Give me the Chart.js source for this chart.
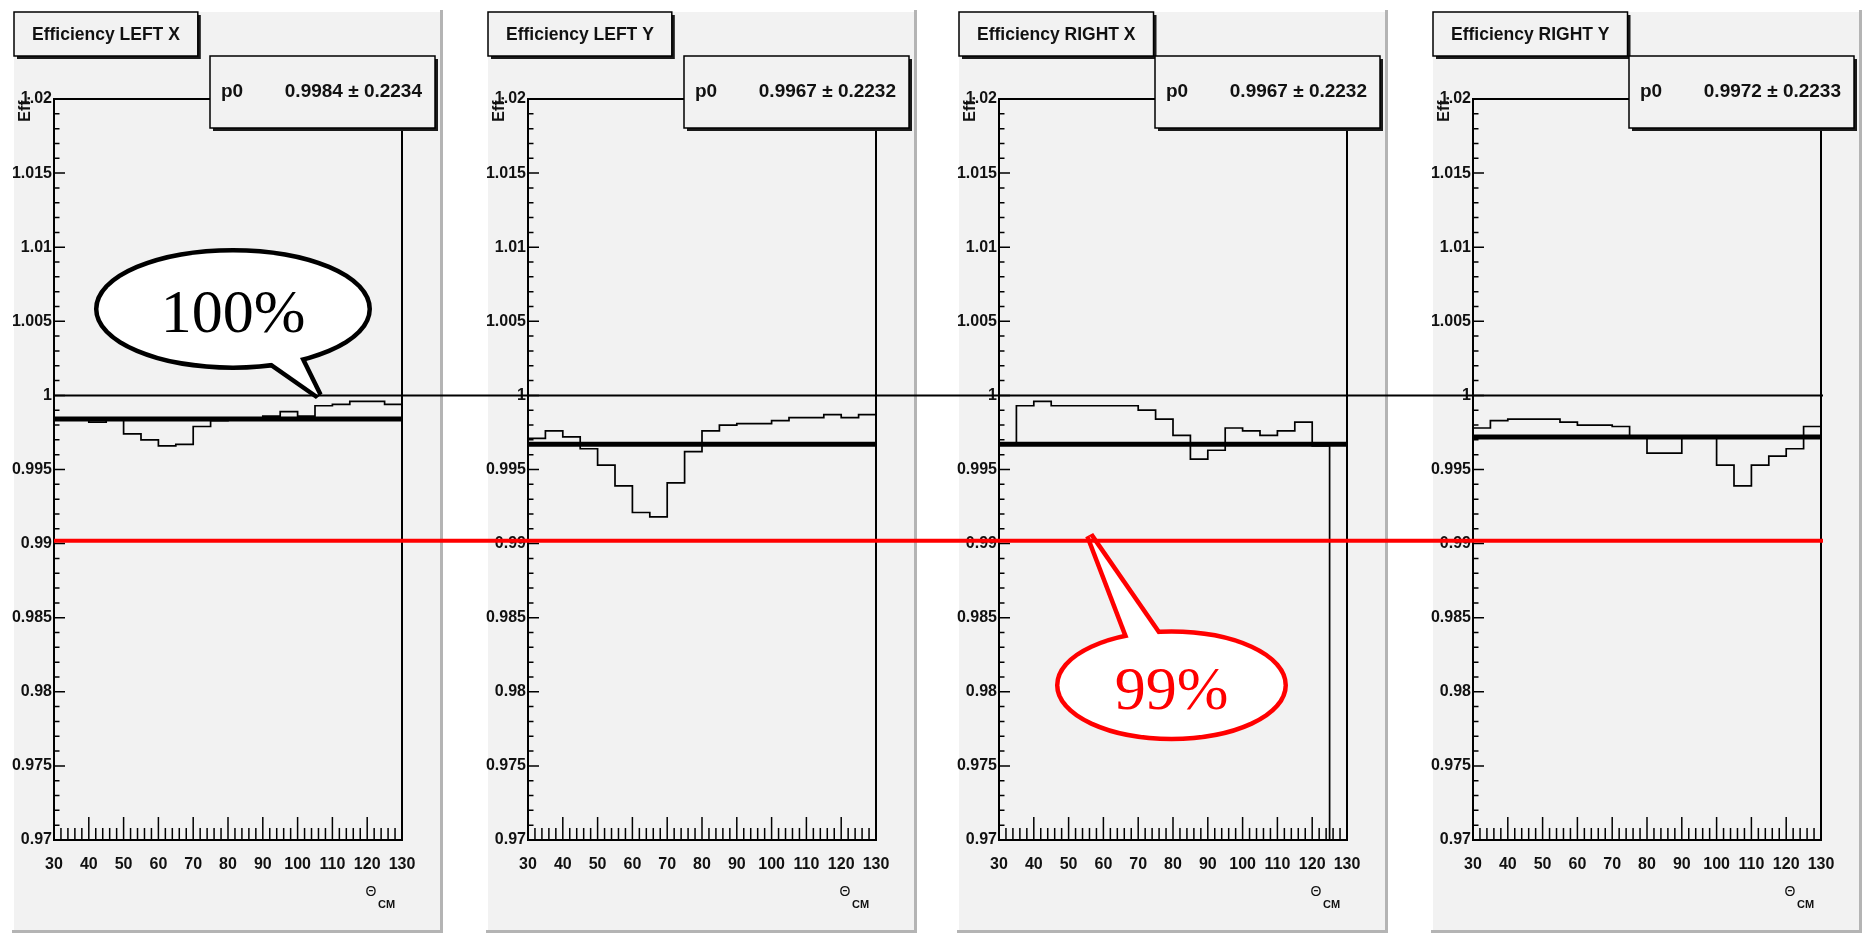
<!DOCTYPE html>
<html>
<head>
<meta charset="utf-8">
<script src="https://cdn.jsdelivr.net/npm/chart.js@4.4.1/dist/chart.umd.min.js"></script>
<style>
  html, body { margin: 0; padding: 0; background: #fff; }
  #wrap { position: relative; width: 1871px; height: 939px; overflow: hidden; }
  #wrap canvas { position: absolute; }
  #overlay { left: 0; top: 0; z-index: 2; pointer-events: none; }
</style>
</head>
<body>
<div id="wrap"><canvas id="overlay" width="1871" height="939"></canvas></div>
<script>
// lower edge of each 5 degree bin in theta CM
const binLow = [30, 35, 40, 45, 50, 55, 60, 65, 70, 75, 80, 85, 90, 95, 100, 105, 110, 115, 120, 125];
const binHigh = 130;

// efficiency per bin
const effLeftX  = [0.9984, 0.9984, 0.9982, 0.9984, 0.9974, 0.9970, 0.9966, 0.9967, 0.9979, 0.9983,
                   0.9984, 0.9984, 0.9986, 0.9989, 0.9986, 0.9993, 0.9994, 0.9996, 0.9996, 0.9994];
const effLeftY  = [0.9971, 0.9976, 0.9972, 0.9964, 0.9953, 0.9939, 0.9921, 0.9918, 0.9941, 0.9962,
                   0.9976, 0.9980, 0.9981, 0.9981, 0.9983, 0.9985, 0.9985, 0.9987, 0.9985, 0.9987];
const effRightX = [0.9968, 0.9993, 0.9996, 0.9993, 0.9993, 0.9993, 0.9993, 0.9993, 0.9990, 0.9984,
                   0.9973, 0.9957, 0.9963, 0.9978, 0.9976, 0.9973, 0.9976, 0.9982, 0.9966, 0];
const effRightY = [0.9978, 0.9983, 0.9984, 0.9984, 0.9984, 0.9982, 0.9980, 0.9980, 0.9979, 0.9972,
                   0.9961, 0.9961, 0.9972, 0.9972, 0.9953, 0.9939, 0.9953, 0.9959, 0.9964, 0.9979];

const panelTitles = ['Efficiency LEFT X', 'Efficiency LEFT Y', 'Efficiency RIGHT X', 'Efficiency RIGHT Y'];
const fitP0  = [0.9984, 0.9967, 0.9967, 0.9972];
const fitErr = [0.2234, 0.2232, 0.2232, 0.2233];

// axis ranges and tick steps
const yMin = 0.97, yMax = 1.02, yMinorStep = 0.001;
const xMin = 30, xMax = 130, xMinorStep = 2;

// reference lines drawn across all panels (100% and 99%)
const refLineValues = [1.0, 0.9902];

// ---- layout (page pixels) ----
const padLefts = [12, 486, 957, 1431];
const PAD_W = 431, PAD_H = 923, PAD_TOP = 10;
const PAD_BG = '#f2f2f2';
const SANS = '"Liberation Sans", Arial, Helvetica, sans-serif';
const SERIF = '"Liberation Serif", "Times New Roman", serif';

const series = [effLeftX, effLeftY, effRightX, effRightY];

function histPoints(vals) {
    let pts = binLow.map((x, i) => ({x: x, y: vals[i]}));
    pts.push({x: binHigh, y: vals[vals.length - 1]});
    return pts;
}

function boxWithShadow(ctx, x, y, w, h) {
    ctx.fillStyle = '#1a1a1a';
    ctx.fillRect(x + 3, y + 3, w, h);
    ctx.fillStyle = PAD_BG;
    ctx.fillRect(x, y, w, h);
    ctx.strokeStyle = '#000';
    ctx.lineWidth = 1.5;
    ctx.strokeRect(x, y, w, h);
}

// ROOT-like pad: background, inner ticks, frame, title and stats boxes
const rootPad = {
    id: 'rootPad',
    beforeDraw(chart) {
        const ctx = chart.ctx, w = chart.width, h = chart.height;
        ctx.save();
        ctx.fillStyle = PAD_BG;
        ctx.fillRect(0, 0, w, h);
        ctx.fillStyle = '#ffffff';
        ctx.fillRect(0, 0, w, 2);
        ctx.fillRect(0, 0, 2, h);
        ctx.fillStyle = '#b4b4b4';
        ctx.fillRect(w - 3, 0, 3, h);
        ctx.fillRect(0, h - 3, w, 3);
        ctx.restore();
    },
    afterDatasetsDraw(chart) {
        const ctx = chart.ctx;
        const {left, right, top, bottom} = chart.chartArea;
        const xs = chart.scales.x, ys = chart.scales.y;
        ctx.save();
        ctx.strokeStyle = '#000';
        ctx.lineWidth = 1.5;
        ctx.beginPath();
        ys.ticks.forEach(t => {
            const py = ys.getPixelForValue(t.value);
            const major = Math.round(t.value * 1000) % 5 === 0;
            ctx.moveTo(left, py);
            ctx.lineTo(left + (major ? 11 : 5.5), py);
        });
        xs.ticks.forEach(t => {
            const px = xs.getPixelForValue(t.value);
            const major = Math.round(t.value) % 10 === 0;
            ctx.moveTo(px, bottom);
            ctx.lineTo(px, bottom - (major ? 23 : 12));
        });
        ctx.stroke();
        ctx.lineWidth = 2;
        ctx.strokeRect(left, top, right - left, bottom - top);
        ctx.restore();
    },
    afterDraw(chart, args, opts) {
        const ctx = chart.ctx;
        ctx.save();
        // title box
        ctx.font = `bold 17.5px ${SANS}`;
        const tw = ctx.measureText(opts.title).width;
        boxWithShadow(ctx, 2, 2, tw + 36, 44);
        ctx.fillStyle = '#111';
        ctx.textAlign = 'center';
        ctx.textBaseline = 'middle';
        ctx.fillText(opts.title, 2 + (tw + 36) / 2, 25);

        // stats box
        const sx = 198, sy = 46, sw = 225, sh = 72;
        boxWithShadow(ctx, sx, sy, sw, sh);
        ctx.fillStyle = '#111';
        ctx.font = `bold 19px ${SANS}`;
        ctx.textAlign = 'left';
        ctx.fillText('p0', sx + 11, sy + sh / 2);
        ctx.textAlign = 'right';
        ctx.fillText(`${opts.p0.toFixed(4)} \u00b1 ${opts.err.toFixed(4)}`, sx + sw - 13, sy + sh / 2);

        // axis titles
        ctx.save();
        ctx.translate(14, 86);
        ctx.rotate(-Math.PI / 2);
        ctx.font = `bold 16px ${SANS}`;
        ctx.textAlign = 'right';
        ctx.textBaseline = 'middle';
        ctx.fillText('Eff.', 0, 0);
        ctx.restore();

        ctx.textAlign = 'center';
        ctx.textBaseline = 'middle';
        ctx.font = `14px ${SANS}`;
        ctx.fillText('\u0398', 359, 882);
        ctx.textAlign = 'left';
        ctx.font = `bold 11px ${SANS}`;
        ctx.fillText('CM', 366, 895);
        ctx.restore();
    }
};

const wrap = document.getElementById('wrap');
const overlay = document.getElementById('overlay');

const charts = series.map((vals, i) => {
    const cv = document.createElement('canvas');
    cv.width = PAD_W;
    cv.height = PAD_H;
    cv.style.left = padLefts[i] + 'px';
    cv.style.top = PAD_TOP + 'px';
    wrap.insertBefore(cv, overlay);

    return new Chart(cv, {
        type: 'line',
        data: {
            datasets: [
                {
                    // constant fit p0
                    data: [{x: xMin, y: fitP0[i]}, {x: xMax, y: fitP0[i]}],
                    borderColor: '#000',
                    borderWidth: 5,
                    pointRadius: 0
                },
                {
                    data: histPoints(vals),
                    stepped: 'before',
                    borderColor: '#000',
                    borderWidth: 1.7,
                    pointRadius: 0,
                    fill: false
                }
            ]
        },
        options: {
            responsive: false,
            animation: false,
            events: [],
            layout: {padding: {left: 0, top: 89, right: 41, bottom: 0}},
            plugins: {
                legend: {display: false},
                tooltip: {enabled: false},
                title: {display: false},
                rootPad: {title: panelTitles[i], p0: fitP0[i], err: fitErr[i]}
            },
            scales: {
                x: {
                    type: 'linear',
                    min: xMin,
                    max: xMax,
                    afterFit: s => { s.height = 93; },
                    grid: {display: false, drawTicks: false},
                    border: {display: false},
                    ticks: {
                        stepSize: xMinorStep,
                        autoSkip: false,
                        maxRotation: 0,
                        padding: 15,
                        color: '#111',
                        font: {family: SANS, weight: 'bold', size: 16},
                        callback: v => (Math.round(v) % 10 === 0 ? String(Math.round(v)) : '')
                    }
                },
                y: {
                    type: 'linear',
                    min: yMin,
                    max: yMax,
                    afterFit: s => { s.width = 42; },
                    grid: {display: false, drawTicks: false},
                    border: {display: false},
                    ticks: {
                        stepSize: yMinorStep,
                        autoSkip: false,
                        padding: 2,
                        color: '#111',
                        font: {family: SANS, weight: 'bold', size: 16},
                        callback: v => {
                            const k = Math.round(v * 1000);
                            return k % 5 === 0 ? String(k / 1000) : '';
                        }
                    }
                }
            }
        },
        plugins: [rootPad]
    });
});

// callouts drawn over the pads, anchored to a data point of one panel
const callouts = [
    {text: '100%', panel: 0, x: 106, y: refLineValues[0], color: '#000000', tipDy: 0,
     tail: [[-57, -32], [-12, -41]], center: [-85.5, -86.5], rx: 134.5, ry: 56.5},
    {text: '99%', panel: 2, x: 56, y: refLineValues[1], color: '#ff0000', tipDy: -5,
     tail: [[33, 103], [74, 96]], center: [82, 149.5], rx: 112, ry: 51.5}
];

function pagePoint(i, xv, yv) {
    const c = charts[i];
    return {
        x: padLefts[i] + c.scales.x.getPixelForValue(xv),
        y: PAD_TOP + c.scales.y.getPixelForValue(yv)
    };
}

function drawCallout(ctx, c) {
    const p = pagePoint(c.panel, c.x, c.y);
    const tip = {x: p.x, y: p.y + c.tipDy};
    const cx = tip.x + c.center[0], cy = tip.y + c.center[1];
    // push the tail base a bit into the ellipse so the outlines merge
    const base = c.tail.map(([dx, dy]) => {
        const bx = tip.x + dx, by = tip.y + dy;
        const vx = cx - bx, vy = cy - by, d = Math.hypot(vx, vy);
        return [bx + vx / d * 14, by + vy / d * 14];
    });
    const ellipse = () => { ctx.beginPath(); ctx.ellipse(cx, cy, c.rx, c.ry, 0, 0, Math.PI * 2); };
    const tail = close => {
        ctx.beginPath();
        ctx.moveTo(base[0][0], base[0][1]);
        ctx.lineTo(tip.x, tip.y);
        ctx.lineTo(base[1][0], base[1][1]);
        if (close) ctx.closePath();
    };
    ctx.save();
    ctx.strokeStyle = c.color;
    ctx.lineWidth = 9;
    ctx.lineJoin = 'miter';
    ctx.miterLimit = 2;
    ellipse(); ctx.stroke();
    tail(false); ctx.stroke();
    ctx.fillStyle = '#ffffff';
    ellipse(); ctx.fill();
    tail(true); ctx.fill();
    ctx.fillStyle = c.color;
    ctx.font = `62px ${SERIF}`;
    ctx.textAlign = 'center';
    ctx.textBaseline = 'alphabetic';
    ctx.fillText(c.text, cx, cy + 23.5);
    ctx.restore();
}

(function drawOverlay() {
    const ctx = overlay.getContext('2d');
    callouts.forEach(c => drawCallout(ctx, c));

    const x0 = pagePoint(0, xMin, 1).x;
    const x1 = pagePoint(3, xMax, 1).x + 2;
    const styles = [{color: '#000000', width: 2}, {color: '#ff0000', width: 4}];
    refLineValues.forEach((v, k) => {
        const y = pagePoint(0, xMin, v).y;
        ctx.save();
        ctx.strokeStyle = styles[k].color;
        ctx.lineWidth = styles[k].width;
        ctx.beginPath();
        ctx.moveTo(x0, y);
        ctx.lineTo(x1, y);
        ctx.stroke();
        ctx.restore();
    });
})();
</script>
</body>
</html>
